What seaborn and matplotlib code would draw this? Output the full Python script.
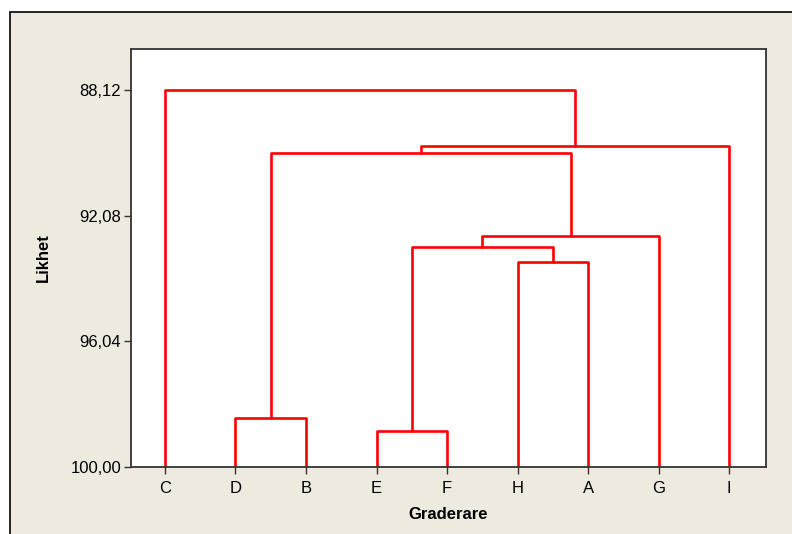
import matplotlib
matplotlib.use('Agg')
import matplotlib.pyplot as plt
from matplotlib.patches import Rectangle
import pandas as pd
import seaborn as sns

# leaf order along the x axis
leaves = ['C', 'D', 'B', 'E', 'F', 'H', 'A', 'G', 'I']
# agglomeration steps: left cluster, right cluster, similarity level
merge_left = ['D', 'E', 'H', 'EF', 'EFHA', 'DB', 'DBEFHAG', 'C']
merge_right = ['B', 'F', 'A', 'HA', 'G', 'EFHAG', 'I', 'DBEFHAGI']
merge_level = [98.46, 98.86, 93.56, 93.07, 92.73, 90.12, 89.88, 88.12]
y_ticks = [88.12, 92.08, 96.04, 100.00]
y_tick_labels = ['88,12', '92,08', '96,04', '100,00']

# ---- build dendrogram line segments ----
pos = {name: i for i, name in enumerate(leaves)}
level = {name: 100.0 for name in leaves}
rows = []
for k, (l, r, h) in enumerate(zip(merge_left, merge_right, merge_level)):
    rows += [(k, pos[l], level[l]), (k, pos[l], h), (k, pos[r], h), (k, pos[r], level[r])]
    node = l + r
    pos[node] = (pos[l] + pos[r]) / 2
    level[node] = h
df = pd.DataFrame(rows, columns=['seg', 'x', 'y'])

sns.set_theme(style="ticks")
plt.rcParams['font.family'] = ['Liberation Sans', 'DejaVu Sans']

fig = plt.figure(figsize=(7.92, 5.34), dpi=100)
fig.patch.set_facecolor('white')
bg = Rectangle((10 / 792, -0.1), 1.2, (534 - 12) / 534 + 0.1,
               transform=fig.transFigure, facecolor='#EEEAE0',
               edgecolor='black', lw=1.2, zorder=-10)
fig.add_artist(bg)
ax = fig.add_axes([131 / 792, 1 - 466.7 / 534, (766 - 131) / 792, (466.7 - 49) / 534])
ax.set_zorder(5)
ax.set_facecolor('white')

sns.lineplot(data=df, x='x', y='y', units='seg', estimator=None, sort=False,
             color='#FF0000', lw=1.9, legend=False, ax=ax)

ax.set_xlim(-0.48, 8.52)
ax.set_ylim(100, 86.83)
ax.set_xticks(range(len(leaves)))
ax.set_xticklabels(leaves)
ax.set_yticks(y_ticks)
ax.set_yticklabels(y_tick_labels)
ax.tick_params(axis='both', direction='out', length=5, width=1, color='#333333',
               labelsize=12, labelcolor='black')
ax.tick_params(axis='y', pad=2)
ax.tick_params(axis='x', pad=5)
for s in ax.spines.values():
    s.set_visible(True)
    s.set_color('#333333')
    s.set_linewidth(1.3)

ax.set_xlabel('Graderare', fontsize=12, fontweight='bold', labelpad=8, color='black')
ax.set_ylabel('Likhet', fontsize=12, fontweight='bold', labelpad=14, color='black')

fig.savefig('out.png', dpi=100, facecolor=fig.get_facecolor())
